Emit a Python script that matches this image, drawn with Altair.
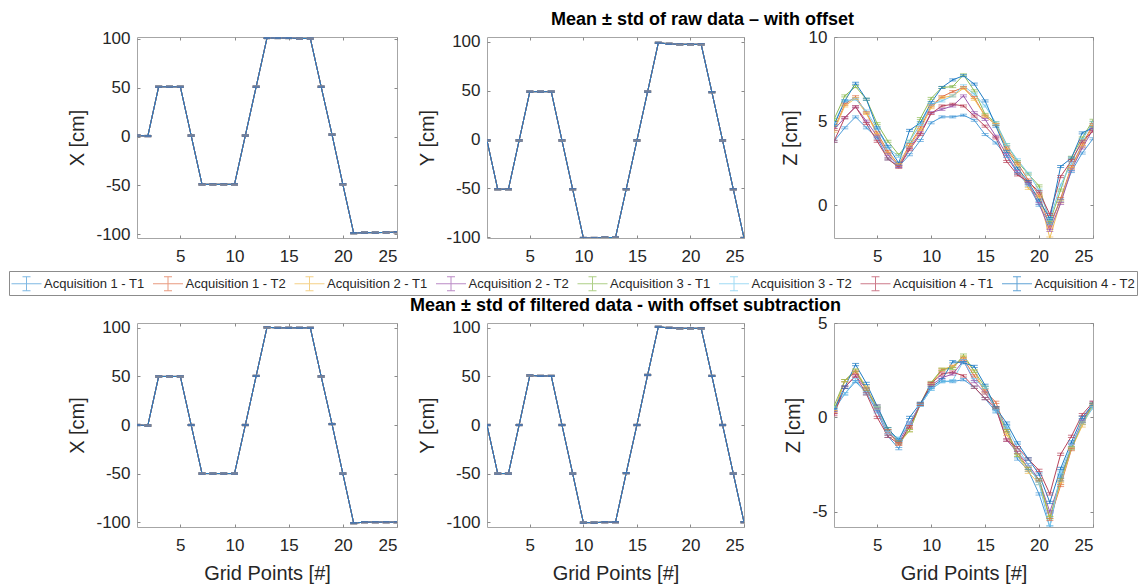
import altair as alt
import pandas as pd

POINTS = list(range(1, 26))
SERIES = [
    "Acquisition 1 - T1", "Acquisition 1 - T2", "Acquisition 2 - T1", "Acquisition 2 - T2",
    "Acquisition 3 - T1", "Acquisition 3 - T2", "Acquisition 4 - T1", "Acquisition 4 - T2",
]
COLORS = ["#4a9bd8", "#e0714a", "#f0be55", "#9e5aae", "#8cbc55", "#7accf0", "#b8435a", "#1f7cc4"]

# ---- raw data (with offset) ----
X_RAW = [1, 0.5, 51, 51, 51, 1, -49, -49, -49, -49, 1, 51, 101, 101, 101, 100.5, 100.5,
         51, 2, -49, -99, -98.5, -98.5, -98.3, -98]
Y_RAW = [-1, -51, -51, -1, 49, 49, 49, -1, -51, -101, -101, -100.5, -100.5, -51, -1, 49,
         99, 98, 97.5, 97.5, 97.5, 48.5, -1, -51, -101]
Z_RAW = [
    [3.8, 4.6, 5.25, 4.6, 4.0, 2.75, 2.3, 3.0, 3.85, 4.9, 5.25, 5.25, 5.35, 5.05, 4.2, 3.7, 2.9, 1.9, 1.2, 0.0, -1.1, 0.3, 2.0, 3.1, 3.95],
    [4.5, 6.0, 6.45, 5.5, 4.3, 3.2, 2.4, 3.6, 4.6, 5.9, 6.45, 6.75, 7.0, 6.4, 5.3, 4.8, 3.4, 2.5, 1.5, 0.6, -1.3, 0.4, 2.3, 3.6, 4.8],
    [4.4, 5.9, 6.35, 5.45, 4.2, 3.1, 2.4, 3.5, 4.5, 5.8, 6.4, 6.5, 6.95, 6.3, 5.3, 4.8, 3.3, 2.4, 1.0, 0.5, -1.95, 0.2, 2.2, 3.5, 4.7],
    [4.5, 5.2, 5.85, 5.0, 4.1, 3.0, 2.3, 3.4, 4.3, 5.5, 5.7, 5.9, 6.5, 5.5, 5.1, 4.1, 3.0, 2.0, 1.3, 0.1, -1.5, 0.1, 2.1, 3.4, 4.5],
    [5.1, 6.5, 7.05, 6.3, 4.85, 3.8, 3.0, 3.8, 5.15, 6.35, 7.0, 7.05, 7.75, 6.8, 5.4, 4.9, 3.6, 2.6, 1.85, 1.15, -1.0, 0.9, 2.85, 4.0, 5.05],
    [4.85, 6.2, 6.3, 5.6, 4.55, 3.4, 2.9, 3.8, 4.8, 6.0, 6.2, 6.5, 7.1, 6.6, 5.9, 4.9, 3.6, 2.7, 1.9, 0.9, -0.85, 1.2, 2.5, 3.9, 4.9],
    [3.8, 5.2, 5.85, 4.85, 3.8, 2.75, 2.25, 3.3, 4.2, 5.45, 5.9, 6.0, 5.9, 5.3, 4.7, 4.0, 2.6, 1.8, 1.4, 0.8, -0.55, 1.7, 2.65, 3.8, 4.4],
    [4.75, 6.2, 7.25, 6.3, 4.6, 3.5, 2.5, 4.45, 4.9, 6.1, 7.0, 7.45, 7.7, 7.2, 6.2, 4.7, 3.2, 2.2, 1.4, 0.3, -0.8, 2.3, 2.8, 4.3, 4.6],
]

# ---- filtered data (with offset subtraction) ----
X_FILT = [0, -0.5, 50, 50, 50, 0, -50, -50, -50, -50, 0, 50.5, 100.5, 100, 100, 100, 100,
          50, 1, -50, -101, -100, -100, -100, -100]
Y_FILT = [0, -50, -50, 0, 51, 50.5, 50.5, 0, -50, -100.5, -100.5, -100, -100, -49.5, 0, 51.5,
          101, 100, 99.5, 99.5, 99.5, 50.5, 0, -50, -100]
Z_FILT = [
    [0.4, 1.25, 1.9, 1.3, 0.3, -1.0, -1.65, -0.3, 0.65, 1.5, 1.9, 1.9, 2.0, 1.6, 1.0, 0.3, -0.5, -2.2, -2.8, -4.05, -5.8, -3.1, -1.65, -0.2, 0.6],
    [0.3, 1.95, 2.4, 1.5, 0.6, -0.7, -1.4, -0.5, 0.7, 1.8, 2.5, 2.7, 3.1, 2.2, 1.4, 0.8, -0.7, -1.85, -2.7, -3.3, -5.4, -3.6, -1.7, -0.3, 0.7],
    [0.3, 1.95, 2.5, 1.6, 0.5, -0.8, -1.4, -0.7, 0.7, 1.75, 2.55, 2.7, 3.2, 2.45, 1.3, 0.5, -0.9, -2.0, -2.9, -3.5, -5.3, -3.5, -1.65, -0.45, 0.65],
    [0.25, 1.6, 2.2, 1.5, 0.4, -0.8, -1.3, -0.3, 0.7, 1.7, 2.1, 2.3, 3.0, 1.9, 1.3, 0.5, -1.2, -1.85, -2.5, -3.3, -5.0, -3.3, -1.5, -0.2, 0.8],
    [0.6, 1.95, 2.5, 1.5, 0.5, -0.6, -1.3, -0.7, 0.7, 1.85, 2.55, 2.6, 3.3, 2.45, 1.6, 0.5, -0.7, -2.0, -2.7, -3.3, -5.3, -3.3, -1.6, -0.3, 0.7],
    [0.5, 1.25, 2.0, 1.25, 0.5, -0.8, -1.1, -0.3, 0.65, 1.5, 1.9, 1.95, 3.0, 2.0, 1.6, 0.35, -0.5, -1.6, -2.5, -3.5, -5.8, -2.9, -1.5, -0.3, 0.5],
    [0.15, 1.6, 2.2, 1.25, 0.0, -1.0, -1.4, -0.5, 0.7, 1.8, 2.3, 2.4, 2.2, 1.6, 1.0, 0.5, -1.2, -1.6, -2.2, -2.8, -4.05, -1.95, -1.0, 0.15, 0.8],
    [0.4, 1.6, 2.8, 1.8, 0.6, -0.6, -1.2, 0.0, 0.75, 1.6, 2.0, 2.95, 2.9, 2.7, 1.7, 0.5, -0.3, -1.35, -2.2, -3.0, -4.5, -2.7, -1.3, 0.0, 0.7],
]

STD_XY = 0.6
STD_Z = 0.06

TITLE_TOP = "Mean ± std of raw data – with offset"
TITLE_BOTTOM = "Mean ± std of filtered data - with offset subtraction"
X_TICKS = [5, 10, 15, 20, 25]
XY_TICKS = [-100, -50, 0, 50, 100]

FONT = "Liberation Sans"
TEXT = "#262626"
TICK = "#8a8a8a"


def long_table(values_by_series, std):
    rows = []
    for s, vals in zip(SERIES, values_by_series):
        for p, v in zip(POINTS, vals):
            rows.append({"series": s, "point": p, "value": v, "lo": v - std, "hi": v + std})
    return pd.DataFrame(rows)


LEGEND = alt.Legend(
    orient="none", direction="horizontal", columns=8, title=None,
    legendX=-128, legendY=234,
    symbolType="M-1.5,0H1.5M0,-0.7V0.7M-0.4,-0.7H0.4M-0.4,0.7H0.4",
    symbolSize=400, symbolStrokeWidth=1, symbolOffset=5,
    labelFont=FONT, labelFontSize=13, labelColor=TEXT, labelOffset=7,
    columnPadding=5.5, padding=2, strokeColor="#8c8c8c", fillColor="white",
)


def panel(df, ytitle, domain, yticks, width, height, xtitle=None, title=None):
    xscale = alt.Scale(domain=[1, 25], nice=False, zero=False)
    yscale = alt.Scale(domain=domain, nice=False, zero=False)
    color = alt.Color("series:N", scale=alt.Scale(domain=SERIES, range=COLORS), legend=LEGEND)

    x_main = alt.X("point:Q", scale=xscale,
                   axis=alt.Axis(values=X_TICKS, title=xtitle, labelPadding=10, titlePadding=10,
                                 ticks=True, tickSize=3, offset=-3, tickColor=TICK))
    y_main = alt.Y("value:Q", scale=yscale,
                   axis=alt.Axis(values=yticks, title=ytitle, labelExpr="'' + datum.value",
                                 ticks=True, tickSize=3, offset=-3, tickColor=TICK))
    x_top = alt.X("point:Q", scale=xscale,
                  axis=alt.Axis(orient="top", values=X_TICKS, title=None, labels=False,
                                ticks=True, tickSize=3, offset=-3, tickColor=TICK))
    y_right = alt.Y("lo:Q", scale=yscale,
                    axis=alt.Axis(orient="right", values=yticks, title=None, labels=False,
                                  ticks=True, tickSize=3, offset=-3, tickColor=TICK))
    x_none = alt.X("point:Q", scale=xscale, axis=None)

    base = alt.Chart(df)
    line = base.mark_line(strokeWidth=1, clip=True).encode(x=x_main, y=y_main, color=color)
    rule = base.mark_rule(strokeWidth=1, clip=True).encode(
        x=x_top, y=y_right, y2="hi:Q", color=color)
    cap_lo = base.mark_tick(orient="horizontal", size=7, thickness=1, clip=True).encode(
        x=x_none, y=alt.Y("lo:Q", scale=yscale, axis=None), color=color)
    cap_hi = base.mark_tick(orient="horizontal", size=7, thickness=1, clip=True).encode(
        x=x_none, y=alt.Y("hi:Q", scale=yscale, axis=None), color=color)
    props = dict(width=width, height=height)
    if title is not None:
        props["title"] = title
    return alt.layer(line, rule, cap_lo, cap_hi).resolve_axis(
        x="independent", y="independent").properties(**props)


t_top = alt.TitleParams(TITLE_TOP, font=FONT, fontSize=18, fontWeight="bold", color="black",
                        anchor="middle", dx=87, offset=4)
t_bot = alt.TitleParams(TITLE_BOTTOM, font=FONT, fontSize=18, fontWeight="bold", color="black",
                        anchor="middle", dx=10, offset=4)

p1 = panel(long_table([X_RAW] * 8, STD_XY), "X [cm]", [-104, 102], XY_TICKS, 260, 201)
p2 = panel(long_table([Y_RAW] * 8, STD_XY), "Y [cm]", [-101, 105], XY_TICKS, 257, 201, title=t_top)
p3 = panel(long_table(Z_RAW, STD_Z), "Z [cm]", [-1.95, 10], [0, 5, 10], 259, 201)
p4 = panel(long_table([X_FILT] * 8, STD_XY), "X [cm]", [-105, 105], XY_TICKS, 260, 204, xtitle="Grid Points [#]")
p5 = panel(long_table([Y_FILT] * 8, STD_XY), "Y [cm]", [-105, 105], XY_TICKS, 257, 204, xtitle="Grid Points [#]", title=t_bot)
p6 = panel(long_table(Z_FILT, STD_Z), "Z [cm]", [-5.8, 5], [-5, 0, 5], 259, 204, xtitle="Grid Points [#]")

chart = alt.concat(p1, p2, p3, p4, p5, p6, columns=3, spacing={"row": 85, "column": 90},
                   bounds="flush").properties(
    padding={"left": 0, "top": 2, "right": 0, "bottom": 0},
    background="white",
).configure_axis(
    labelFont=FONT, labelFontSize=17, labelColor=TEXT, labelPadding=7,
    titleFont=FONT, titleFontSize=20, titleFontWeight="normal", titleColor=TEXT, titlePadding=8,
    ticks=False, grid=False, domain=False,
).configure_view(stroke="#a6a6a6", strokeWidth=1)

chart.save("out.html", embed_options={"renderer": "svg", "actions": False})
